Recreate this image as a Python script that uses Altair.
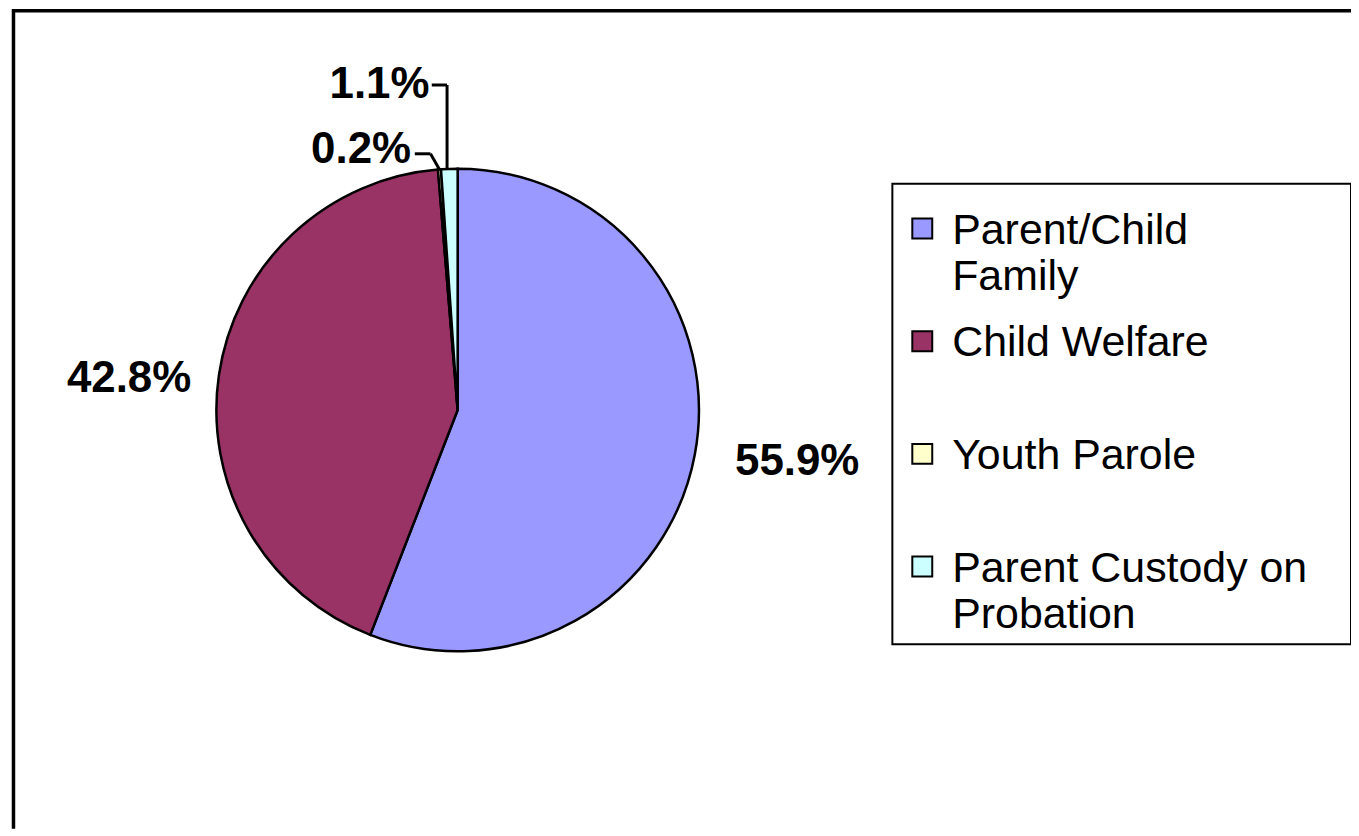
import math
import altair as alt
import pandas as pd

# ---- data ----
categories = ["Parent/Child Family", "Child Welfare", "Youth Parole", "Parent Custody on Probation"]
legend_labels = ["Parent/Child\nFamily", "Child Welfare", "Youth Parole", "Parent Custody on\nProbation"]
shares = [55.9, 42.8, 0.2, 1.1]
label_text = ["55.9%", "42.8%", "0.2%", "1.1%"]
colors = ["#9999FF", "#993366", "#FFFFCC", "#CCFFFF"]

df = pd.DataFrame({
    "category": categories,
    "legend": legend_labels,
    "share": shares,
    "label": label_text,
    "order": list(range(len(categories))),
})

# ---- layout ----
W, H = 1343, 822
CX, CY, R = 447, 402, 242
FONT = "Liberation Sans"
total = sum(shares)
theta_scale = alt.Scale(domain=[0, total], range=[0, 2 * math.pi])
color_scale = alt.Scale(domain=categories, range=colors)
one = pd.DataFrame({"a": [0]})

pie = alt.Chart(df).mark_arc(stroke="black", strokeWidth=2.5, outerRadius=R).encode(
    theta=alt.Theta("share:Q", stack=True, scale=theta_scale),
    color=alt.Color("category:N", scale=color_scale, legend=None),
    order=alt.Order("order:Q"),
    x=alt.value(CX),
    y=alt.value(CY),
)


def label_layer(cat, radius, align, dx=0, dy=0):
    return (
        alt.Chart(df)
        .transform_window(cum="sum(share)", sort=[alt.SortField("order")])
        .transform_calculate(mid="datum.cum - datum.share / 2")
        .transform_filter(alt.datum.category == cat)
        .mark_text(radius=radius, align=align, baseline="middle", font=FONT,
                   fontSize=44, fontWeight="bold", color="black", dx=dx, dy=dy)
        .encode(
            theta=alt.Theta("mid:Q", stack=None, scale=theta_scale),
            text="label:N",
            x=alt.value(CX),
            y=alt.value(CY),
        )
    )


labels = [
    label_layer(categories[0], 283, "left"),
    label_layer(categories[1], 270, "right", dy=8),
    label_layer(categories[2], 262, "right", dx=-27),
    label_layer(categories[3], 326, "right", dx=-17),
]


# leader lines for the two thin slices (end points on the pie rim, computed from the shares)
def rim_point(frac):
    a = 2 * math.pi * frac
    return CX + R * math.sin(a), CY - R * math.cos(a)


cum = [sum(shares[: i + 1]) for i in range(len(shares))]
yp_x, yp_y = rim_point((cum[2] - shares[2] / 2) / total)
pc_x, pc_y = rim_point((cum[3] - shares[3] / 2 - 0.15) / total)


def seg(x1, y1, x2, y2):
    return alt.Chart(one).mark_rule(color="black", strokeWidth=3).encode(
        x=alt.value(x1), y=alt.value(y1), x2=alt.value(x2), y2=alt.value(y2)
    )


leaders = [
    seg(404, 145, yp_x - 9, 145),
    seg(yp_x - 9, 145, yp_x, yp_y),
    seg(421, 76, pc_x, 76),
    seg(pc_x, 76, pc_x, pc_y),
]

# frame (top and left edges visible as in the reference)
frame = [
    alt.Chart(one).mark_rule(color="black", strokeWidth=3.5).encode(
        x=alt.value(0), x2=alt.value(W), y=alt.value(1.5)),
    alt.Chart(one).mark_rule(color="black", strokeWidth=3.5).encode(
        x=alt.value(1.5), y=alt.value(0), y2=alt.value(H)),
]

# legend
legend_box = alt.Chart(one).mark_rect(fill="white", stroke="black", strokeWidth=2).encode(
    x=alt.value(883), x2=alt.value(1343), y=alt.value(175), y2=alt.value(637)
)
leg_y = alt.Y("category:N", scale=alt.Scale(type="point", domain=categories, range=[220, 559], padding=0), axis=None)
legend_sym = alt.Chart(df).mark_square(size=400, stroke="black", strokeWidth=2, opacity=1).encode(
    x=alt.value(913),
    y=leg_y,
    color=alt.Color("category:N", scale=color_scale, legend=None),
)
legend_txt = alt.Chart(df).mark_text(
    align="left", baseline="top", lineBreak="\n", font=FONT, fontSize=43,
    lineHeight=47, dy=-19, color="black"
).encode(x=alt.value(943), y=leg_y, text="legend:N")

chart = alt.layer(
    *frame, pie, *labels, *leaders, legend_box, legend_sym, legend_txt
).properties(
    width=W, height=H, autosize="none",
    padding={"left": 4, "top": 0, "right": 0, "bottom": 0},
).configure_view(stroke=None)

chart.save("out.html", embed_options={"renderer": "svg", "actions": False})
